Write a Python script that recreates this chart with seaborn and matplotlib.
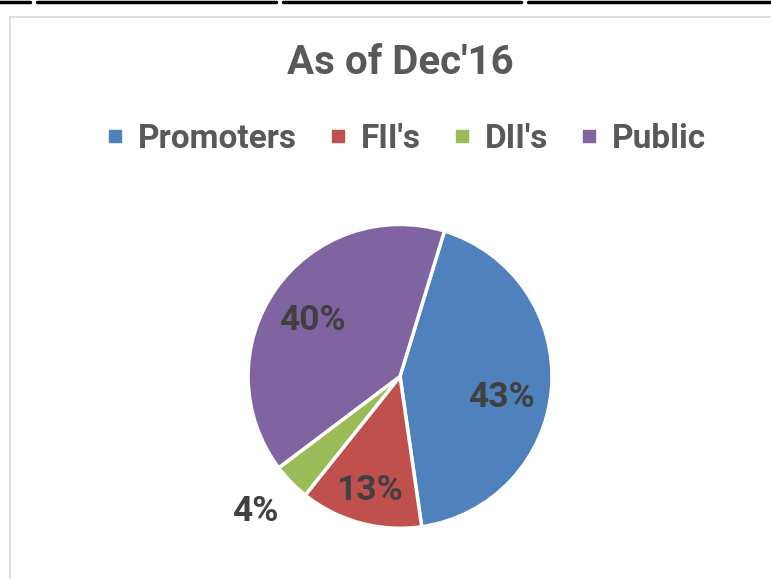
import matplotlib
matplotlib.use('Agg')
import matplotlib.pyplot as plt
from matplotlib.lines import Line2D
from matplotlib.patches import Rectangle
import seaborn as sns

# Shareholding pattern as of Dec'16
categories = ['Promoters', "FII's", "DII's", 'Public']
shares = [43, 13, 4, 40]
colors = ['#4F81BD', '#C0504D', '#9BBB59', '#8064A2']

sns.set_theme(style='white')
plt.rcParams['font.family'] = ['Roboto', 'DejaVu Sans']
palette = sns.color_palette(colors)

fig = plt.figure(figsize=(7.71, 5.79), dpi=100)
fig.patch.set_facecolor('white')

# top table borders and chart frame
for x0, x1 in [(0, 30), (37, 276), (283, 521), (528, 771)]:
    fig.add_artist(Line2D([x0 / 771, x1 / 771], [1 - 1.5 / 579, 1 - 1.5 / 579],
                          color='black', lw=2.5, transform=fig.transFigure))
fig.add_artist(Rectangle((10 / 771, -0.1), 1.2, (579 - 17) / 579 + 0.1,
                         fill=False, edgecolor='#D9D9D9', lw=1.2,
                         transform=fig.transFigure))

ax = fig.add_axes([0.2724, 0.022, 0.4929, 0.656])
wedges, texts, autotexts = ax.pie(
    shares, colors=palette, startangle=73, counterclock=False,
    autopct='%1.0f%%', pctdistance=0.7,
    wedgeprops=dict(edgecolor='white', linewidth=2.5),
    textprops=dict(color='#404040', fontsize=25.5, fontweight='bold'))
ax.set_xlim(-1.25, 1.25)
ax.set_ylim(-1.25, 1.25)
ax.set_aspect('equal')

# label positions as in the original chart (4% sits outside)
label_pos = [(0.67, -0.14), (-0.2, -0.75), (-0.95, -0.89), (-0.58, 0.37)]
for t, p in zip(autotexts, label_pos):
    t.set_position(p)

fig.text(0.519, 1 - 63 / 579, "As of Dec'16", ha='center', va='center',
         fontsize=29, fontweight='bold', color='#595959')

handles = [Line2D([], [], marker='s', linestyle='', markersize=8, color=c) for c in colors]
fig.legend(handles, categories, loc='center', bbox_to_anchor=(0.529, 1 - 139 / 579),
           ncol=4, frameon=False, handletextpad=0.54, columnspacing=1.08,
           handlelength=0.3,
           prop=dict(size=24, weight='bold'), labelcolor='#595959')

fig.savefig('out.png', dpi=100, facecolor='white')
